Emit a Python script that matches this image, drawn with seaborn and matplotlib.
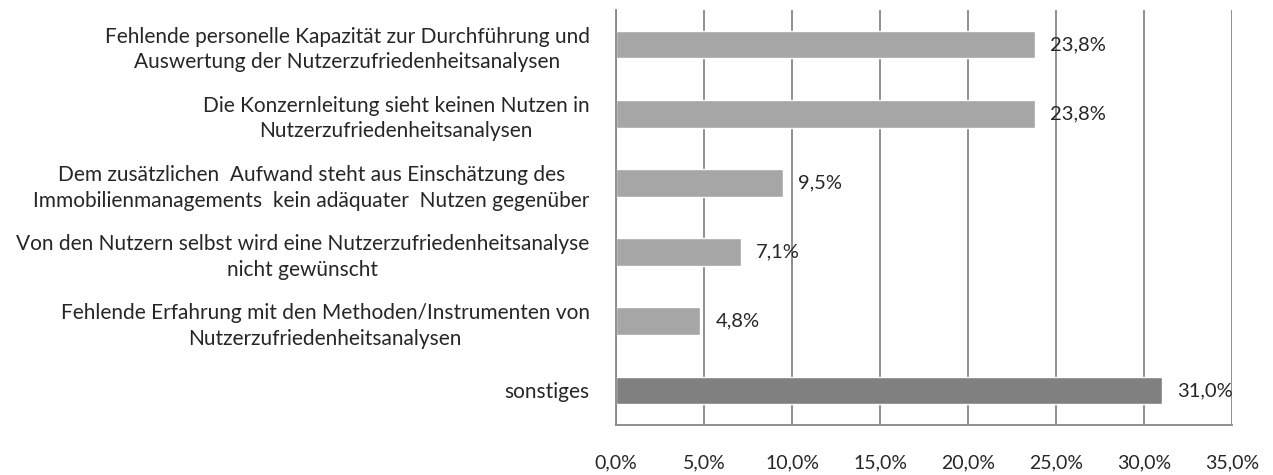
import matplotlib
matplotlib.use("Agg")
import matplotlib.pyplot as plt
import seaborn as sns
import pandas as pd
import numpy as np

categories = [
    "Fehlende personelle Kapazität zur Durchführung und\nAuswertung der Nutzerzufriedenheitsanalysen",
    "Die Konzernleitung sieht keinen Nutzen in\nNutzerzufriedenheitsanalysen",
    "Dem zusätzlichen  Aufwand steht aus Einschätzung des\nImmobilienmanagements  kein adäquater  Nutzen gegenüber",
    "Von den Nutzern selbst wird eine Nutzerzufriedenheitsanalyse\nnicht gewünscht",
    "Fehlende Erfahrung mit den Methoden/Instrumenten von\nNutzerzufriedenheitsanalysen",
    "sonstiges",
]
values = [23.8, 23.8, 9.5, 7.1, 4.8, 31.0]
bar_colors = ["#A6A6A6", "#A6A6A6", "#A6A6A6", "#A6A6A6", "#A6A6A6", "#808080"]
xticks = [0, 5, 10, 15, 20, 25, 30, 35]

df = pd.DataFrame({"cat": categories, "val": values})

sns.set_style("white")
plt.rcParams["font.family"] = ["Lato", "DejaVu Sans"]

fig = plt.figure(figsize=(12.73, 4.75), dpi=100)
ax = fig.add_axes([616 / 1273, 1 - 425 / 475, (1232 - 616) / 1273, (425 - 10) / 475])

sns.barplot(data=df, y="cat", x="val", hue="cat", palette=bar_colors,
            orient="h", width=0.4, legend=False, ax=ax, saturation=1)

ax.set_xlim(0, 35)
ax.set_ylim(len(categories) - 0.5, -0.5)
ax.set_xticks(xticks)
ax.set_xticklabels([f"{t:.1f}%".replace(".", ",") for t in xticks], fontsize=14)
ax.xaxis.grid(True, color="#878787", linewidth=1.3)
ax.set_axisbelow(True)

ax.set_yticks(range(len(categories)))
ax.set_yticklabels(categories, fontsize=15, multialignment="center", linespacing=1.35)
ax.tick_params(axis="y", which="major", length=0, pad=19)
ax.set_yticks(np.arange(-0.5, len(categories), 1), minor=True)
ax.tick_params(axis="y", which="minor", length=6, width=1.3, color="#878787", direction="out")
ax.tick_params(axis="x", which="major", length=6, width=1.3, color="#878787", direction="out", pad=15)

ax.set_xlabel("")
ax.set_ylabel("")
for s in ["top", "right"]:
    ax.spines[s].set_visible(False)
for s in ["left", "bottom"]:
    ax.spines[s].set_color("#878787")
    ax.spines[s].set_linewidth(1.3)

for cont in ax.containers:
    ax.bar_label(cont, labels=[f"{v:.1f}%".replace(".", ",") for v in cont.datavalues],
                 padding=11, fontsize=14.5)

fig.savefig("out.png", dpi=100)
